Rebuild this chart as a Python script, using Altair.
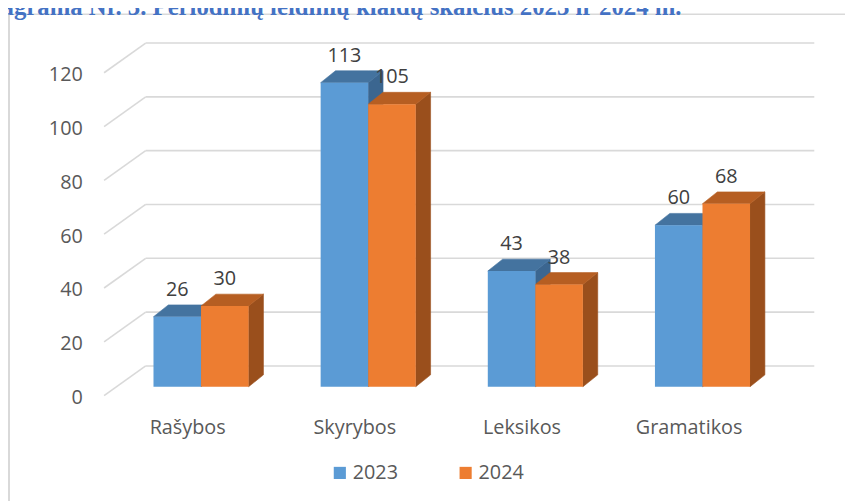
import altair as alt
import pandas as pd

# ---- data ----
categories = ["Rašybos", "Skyrybos", "Leksikos", "Gramatikos"]
series_names = ["2023", "2024"]
values_2023 = [26, 113, 43, 60]
values_2024 = [30, 105, 38, 68]
grid_values = [0, 20, 40, 60, 80, 100, 120]
title_text = "Diagrama Nr. 3. Periodinių leidinių klaidų skaičius 2023 ir 2024 m."

# ---- styling / geometry constants ----
BLUE, ORANGE = "#5B9BD5", "#ED7D31"
BLUE_TOP, ORANGE_TOP = "#44739F", "#B65E22"
BLUE_SIDE, ORANGE_SIDE = "#3B6690", "#9A4F1C"
GRID = "#D9D9D9"
FONT = "Open Sans"
W = 0.2844          # bar width in category units
DX = 0.0889         # depth shift (x, category units)
DY = 4.41           # depth shift (y, value units)
x_scale = alt.Scale(domain=[-0.58, 3.42], nice=False, zero=False)
y_scale = alt.Scale(domain=[0, 120], nice=False, zero=False)

fronts, sides, tops = [], [], []
for s, vals in zip(series_names, [values_2023, values_2024]):
    for i, (c, v) in enumerate(zip(categories, vals)):
        x0 = i - W if s == "2023" else i
        x1 = x0 + W
        bid = f"{s}-{i}"
        fronts.append(dict(cat=c, series=s, value=v, x0=x0, x1=x1, xm=(x0 + x1) / 2, base=0))
        sides += [dict(bar=bid, series=s, px=x1, lo=0, hi=v),
                  dict(bar=bid, series=s, px=x1 + DX, lo=DY, hi=v + DY)]
        tops += [dict(bar=bid, series=s, px=x0, lo=v, hi=v),
                 dict(bar=bid, series=s, px=x0 + DX, lo=v, hi=v + DY),
                 dict(bar=bid, series=s, px=x1, lo=v, hi=v + DY),
                 dict(bar=bid, series=s, px=x1 + DX, lo=v + DY, hi=v + DY)]
front_df = pd.DataFrame(fronts)
side_df = pd.DataFrame(sides)
top_df = pd.DataFrame(tops)
grid_df = pd.DataFrame({"g": grid_values})

label_expr = "[" + ",".join(f"'{c}'" for c in categories) + "][datum.value]"

# gridlines on back wall + diagonal on side wall
back = alt.Chart(grid_df).mark_rule(color=GRID, strokeWidth=1.6, yOffset=-21).encode(
    y=alt.Y("g:Q", scale=y_scale, title=None),
    x=alt.value(42), x2=alt.value(717))
diag = alt.Chart(grid_df).mark_rule(color=GRID, strokeWidth=1.6, yOffset=9, y2Offset=-21).encode(
    y=alt.Y("g:Q", scale=y_scale, title=None), y2="g:Q",
    x=alt.value(0), x2=alt.value(42))

side = alt.Chart(side_df).mark_area(strokeWidth=0.6, interpolate="linear").encode(
    x=alt.X("px:Q", scale=x_scale, title=None),
    y=alt.Y("hi:Q", scale=y_scale, title=None), y2="lo:Q",
    detail="bar:N",
    color=alt.condition(alt.datum.series == "2023", alt.value(BLUE_SIDE), alt.value(ORANGE_SIDE)),
    stroke=alt.condition(alt.datum.series == "2023", alt.value(BLUE_SIDE), alt.value(ORANGE_SIDE)))
top = alt.Chart(top_df).mark_area(strokeWidth=0.6, interpolate="linear").encode(
    x=alt.X("px:Q", scale=x_scale, title=None),
    y=alt.Y("hi:Q", scale=y_scale, title=None), y2="lo:Q",
    detail="bar:N",
    color=alt.condition(alt.datum.series == "2023", alt.value(BLUE_TOP), alt.value(ORANGE_TOP)),
    stroke=alt.condition(alt.datum.series == "2023", alt.value(BLUE_TOP), alt.value(ORANGE_TOP)))

front = alt.Chart(front_df).mark_bar().encode(
    x=alt.X("x0:Q", scale=x_scale, title=None, axis=alt.Axis(
        values=[0, 1, 2, 3], labelExpr=label_expr, grid=False, ticks=False, domain=False,
        labelPadding=31, labelOffset=-14, labelFontSize=20, labelFont=FONT,
        labelColor="#595959")),
    x2="x1:Q",
    y=alt.Y("value:Q", scale=y_scale, title=None, axis=alt.Axis(
        values=grid_values, grid=False, ticks=False, domain=False, labelPadding=22,
        labelOffset=11, labelFontSize=20, labelFont=FONT, labelColor="#595959")),
    y2="base:Q",
    color=alt.Color("series:N", scale=alt.Scale(domain=series_names, range=[BLUE, ORANGE]),
                    legend=alt.Legend(orient="none", legendX=228, legendY=403, direction="horizontal",
                                      title=None, symbolType="square", symbolSize=150,
                                      symbolStrokeWidth=0, labelFontSize=20, labelFont=FONT,
                                      labelColor="#595959", labelOffset=3, columnPadding=58)))

labels = alt.Chart(front_df).mark_text(fontSize=20, font=FONT, color="#404040", dy=-21,
                                       baseline="alphabetic").encode(
    x=alt.X("xm:Q", scale=x_scale, title=None),
    y=alt.Y("value:Q", scale=y_scale, title=None),
    text="value:Q")

frame_df = pd.DataFrame({"k": [0]})
frame_left = alt.Chart(frame_df).mark_rule(color="#D9D9D9", strokeWidth=2).encode(
    x=alt.value(-96), y=alt.value(-50), y2=alt.value(460))
frame_top = alt.Chart(frame_df).mark_rule(color="#D9D9D9", strokeWidth=1.5).encode(
    x=alt.value(-97), x2=alt.value(760), y=alt.value(-50))

title = alt.Chart(pd.DataFrame({"t": [title_text]})).mark_text(
    font="Liberation Serif", fontWeight="bold", fontSize=25, color="#4472C4",
    align="right", baseline="alphabetic").encode(
    text="t:N", x=alt.value(583), y=alt.value(-49))

chart = alt.layer(front, frame_left, frame_top, back, diag, side, top, labels, title).properties(
    width=675, height=326,
    padding={"left": 97, "top": 54, "right": 73, "bottom": 113},
    autosize="none",
)
# draw order: put the bar fronts after the depth faces
chart.layer = [frame_left, frame_top, back, diag, side, top, front, labels, title]
chart = chart.configure_view(stroke=None)

chart.save("out.html", embed_options={"renderer": "svg", "actions": False})
